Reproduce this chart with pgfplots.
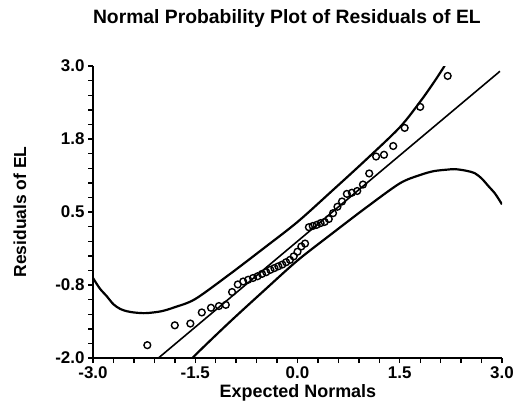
\documentclass[border=0pt]{standalone}
\usepackage{fontspec}
\setmainfont{Liberation Sans}
\usepackage{pgfplots}
\usepackage{pgfplotstable}
\pgfplotsset{compat=1.18}

\pgfplotstableread{
x y
-2.203 -1.78
-1.800 -1.44
-1.572 -1.41
-1.404 -1.22
-1.269 -1.14
-1.153 -1.11
-1.052 -1.09
-0.960 -0.87
-0.876 -0.74
-0.797 -0.69
-0.724 -0.66
-0.653 -0.63
-0.586 -0.60
-0.521 -0.56
-0.459 -0.53
-0.398 -0.49
-0.339 -0.46
-0.281 -0.43
-0.223 -0.40
-0.167 -0.36
-0.111 -0.32
-0.056 -0.26
0.000 -0.18
0.056 -0.09
0.111 -0.04
0.167 0.24
0.223 0.26
0.281 0.28
0.339 0.31
0.398 0.33
0.459 0.38
0.521 0.48
0.586 0.59
0.653 0.68
0.724 0.81
0.797 0.83
0.876 0.86
0.960 0.97
1.052 1.16
1.153 1.45
1.269 1.48
1.404 1.63
1.572 1.94
1.800 2.30
2.203 2.83
}\residtab

\pgfplotstableread{
x y
-3.0 -0.63
-2.9 -0.81
-2.8 -0.94
-2.7 -1.08
-2.6 -1.16
-2.5 -1.20
-2.4 -1.22
-2.3 -1.23
-2.2 -1.23
-2.0 -1.20
-1.8 -1.13
-1.5 -0.99
-1.0 -0.57
-0.5 -0.125
0 0.33
0.5 0.855
1.0 1.39
1.5 1.95
1.8 2.39
2.0 2.72
2.14 2.97
2.2 3.09
}\upperband

\pgfplotstableread{
x y
-1.6 -2.09
-1.5 -1.95
-1.0 -1.39
-0.5 -0.855
0 -0.33
0.5 0.125
1.0 0.57
1.5 0.99
1.8 1.134
2.0 1.20
2.2 1.226
2.3 1.234
2.4 1.222
2.5 1.20
2.6 1.165
2.7 1.076
2.8 0.944
2.9 0.812
3.0 0.63
}\lowerband

\begin{document}
\begin{tikzpicture}[x=1bp,y=1bp]
\path[use as bounding box] (0,0) rectangle (515,403);
\begin{axis}[
  at={(93bp,45bp)}, anchor=south west,
  scale only axis, width=409bp, height=292bp,
  xmin=-3, xmax=3, ymin=-2, ymax=3,
  axis lines=left,
  axis line style={-, line width=1.8pt},
  tick align=outside,
  major tick length=5bp, minor tick length=5bp,
  every tick/.style={line width=1.4pt, black},
  xtick={-3,-1.5,0,1.5,3},
  xticklabels={-3.0,-1.5,0.0,1.5,3.0},
  minor x tick num=4,
  ytick={-2,-0.75,0.5,1.75,3},
  yticklabels={-2.0,-0.8,0.5,1.8,3.0},
  minor y tick num=4,
  ticklabel style={font=\fontsize{17}{17}\selectfont\bfseries},
  title={Normal Probability Plot of Residuals of EL},
  title style={at={(axis description cs:0.474,1.1267)}, anchor=base, inner sep=0pt, font=\fontsize{19.4}{19.4}\selectfont\bfseries},
  xlabel={Expected Normals},
  xlabel style={at={(axis description cs:0.501,-0.1336)}, anchor=base, inner sep=0pt, font=\fontsize{18}{18}\selectfont\bfseries},
  ylabel={Residuals of EL},
  ylabel style={at={(axis description cs:-0.1638,0.5)}, anchor=base, rotate=0, inner sep=0pt, font=\fontsize{17.5}{17.5}\selectfont\bfseries},
  clip=true,
]
\addplot[black, line width=2.2pt, smooth, tension=0.5] table {\upperband};
\addplot[black, line width=2.2pt, smooth, tension=0.5] table {\lowerband};
\addplot[black, line width=1.6pt] coordinates {(-2.04,-2.0) (2.97,2.91)};
\addplot[only marks, mark=o, mark size=3.4bp, mark options={line width=1.4pt, black, fill=white}] table {\residtab};
\end{axis}
\end{tikzpicture}
\end{document}
